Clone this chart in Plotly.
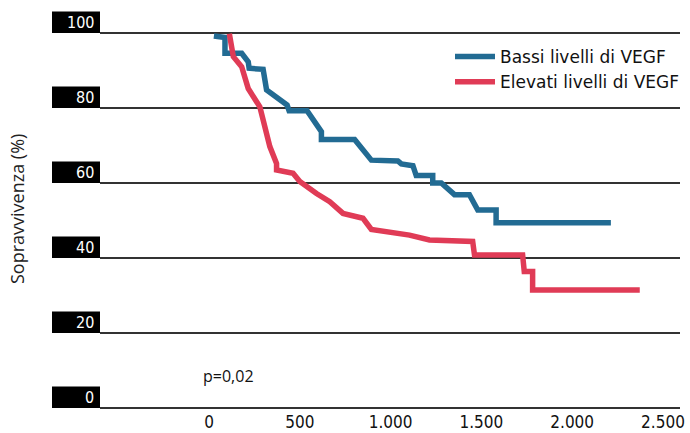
import plotly.graph_objects as go

# ---- data ----
low_days = [27, 88, 88, 180, 216, 221, 298, 317, 430, 441, 540, 619, 619, 802, 894,
            1040, 1059, 1123, 1141, 1232, 1232, 1279, 1352, 1434, 1480, 1581, 1581, 2213]
low_surv = [99.2, 98.8, 94.6, 94.6, 92.3, 90.6, 90.3, 84.8, 80.8, 79.3, 79.3, 73.7, 71.6, 71.6, 66.1,
            65.9, 65.1, 64.6, 62.0, 62.0, 60.0, 60.0, 56.9, 56.9, 52.8, 52.8, 49.4, 49.4]

high_days = [112, 134, 180, 216, 280, 298, 335, 372, 372, 463, 500, 592, 665, 738, 848, 894,
             995, 1104, 1214, 1452, 1462, 1727, 1736, 1782, 1782, 2372]
high_surv = [99.8, 93.7, 91.0, 85.2, 80.3, 76.8, 69.7, 65.2, 63.5, 62.6, 60.4, 57.2, 55.0, 51.9, 50.6, 47.6,
             47.0, 46.1, 44.8, 44.4, 40.8, 40.8, 36.4, 36.4, 31.5, 31.5]

series_names = ["Bassi livelli di VEGF", "Elevati livelli di VEGF"]
series_colors = ["#226b93", "#e03b56"]

x_tick_vals = [0, 500, 1000, 1500, 2000, 2500]
x_tick_labels = ["0", "500", "1.000", "1.500", "2.000", "2.500"]
y_tick_vals = [0, 20, 40, 60, 80, 100]
y_tick_labels = ["0", "20", "40", "60", "80", "100"]

y_title = "Sopravvivenza (%)"
p_text = "p=0,02"
p_pos = (105, 8.5)

W, H = 690, 433
ML, MR, MT, MB = 100, 10, 18, 23
PW = W - ML - MR
PH = H - MT - MB
Y_RANGE = [-0.533, 104]
Y_SPAN = Y_RANGE[1] - Y_RANGE[0]
PX_PER_Y = PH / Y_SPAN
X0_PX = 209          # pixel of day 0
PX_PER_X = 0.1816
X_RANGE = [(ML - X0_PX) / PX_PER_X, (W - MR - X0_PX) / PX_PER_X]


def ypaper(v):
    return (v - Y_RANGE[0]) / Y_SPAN


fig = go.Figure()
for i, (xs, ys) in enumerate([(low_days, low_surv), (high_days, high_surv)]):
    fig.add_trace(go.Scatter(
        x=xs, y=ys, mode="lines", name=series_names[i],
        line=dict(color=series_colors[i], width=5.5),
        legendgroup=f"g{i}",
    ))

# black label boxes for y ticks, with white labels
box_w_px = 48
box_h_px = 21.5
for v, lab in zip(y_tick_vals, y_tick_labels):
    fig.add_shape(type="rect", xref="paper", yref="paper",
                  x0=-box_w_px / PW, x1=0, y0=ypaper(v), y1=ypaper(v) + box_h_px / PH,
                  fillcolor="black", line=dict(width=0), layer="above")
    fig.add_annotation(text=lab, xref="paper", yref="y", x=0, y=v,
                       xanchor="right", yanchor="bottom", xshift=-4, yshift=-1,
                       showarrow=False,
                       font=dict(family="DejaVu Sans Condensed", size=16, color="white"))

fig.add_annotation(text=y_title, xref="paper", yref="paper",
                   x=(17 - ML) / PW, y=1 - (209 - MT) / PH, textangle=-90,
                   xanchor="center", yanchor="middle",
                   showarrow=False, font=dict(family="Open Sans", size=18, color="#222"))

fig.add_annotation(text=p_text, x=p_pos[0], y=p_pos[1], xref="x", yref="y",
                   showarrow=False, font=dict(family="Open Sans", size=16, color="#111"))

fig.update_layout(
    width=W, height=H,
    margin=dict(l=ML, r=MR, t=MT, b=MB, pad=0, autoexpand=False),
    paper_bgcolor="white", plot_bgcolor="white",
    showlegend=True,
    legend=dict(x=(450 - ML) / PW, y=1 - (39 - MT) / PH, xanchor="left", yanchor="top",
                bgcolor="rgba(0,0,0,0)", font=dict(family="DejaVu Sans", size=17, color="#111"),
                tracegroupgap=0, itemwidth=40),
    xaxis=dict(range=X_RANGE, tickvals=x_tick_vals, ticktext=x_tick_labels,
               showgrid=False, zeroline=False, showline=False, ticks="", automargin=False,
               tickfont=dict(family="DejaVu Sans Condensed", size=17, color="#111")),
    yaxis=dict(range=Y_RANGE, tickvals=y_tick_vals, showticklabels=False,
               showgrid=True, gridcolor="#333", gridwidth=1.5, zeroline=False, showline=False,
               ticks="", automargin=False),
)

fig.write_html("out.html", config={"displayModeBar": False},
               post_script="document.body.style.margin='0px';")
